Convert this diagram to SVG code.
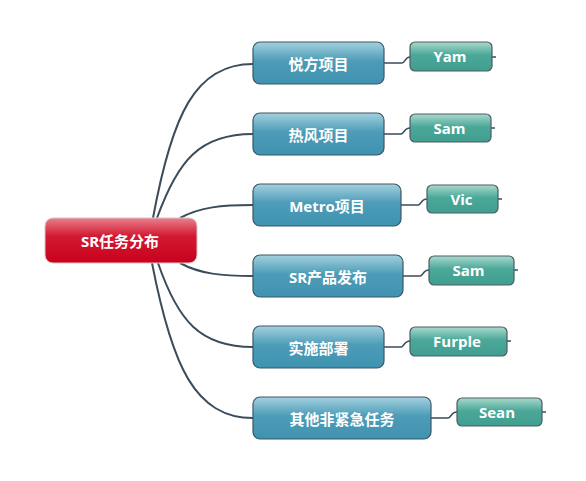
<svg xmlns="http://www.w3.org/2000/svg" width="586" height="481" viewBox="0 0 586 481">
<defs>
<linearGradient id="gRoot" x1="0" y1="0" x2="0" y2="1">
<stop offset="0" stop-color="#e8808c"/>
<stop offset="0.4" stop-color="#d31a32"/>
<stop offset="1" stop-color="#c9001d"/>
</linearGradient>
<linearGradient id="gBranch" x1="0" y1="0" x2="0" y2="1">
<stop offset="0" stop-color="#a3d1de"/>
<stop offset="0.45" stop-color="#4d9cb8"/>
<stop offset="1" stop-color="#3f93b0"/>
</linearGradient>
<linearGradient id="gLeaf" x1="0" y1="0" x2="0" y2="1">
<stop offset="0" stop-color="#a9d9cd"/>
<stop offset="0.45" stop-color="#4ba899"/>
<stop offset="1" stop-color="#409e90"/>
</linearGradient>
</defs>
<style>
.root{fill:url(#gRoot);stroke:#d9c6c8;stroke-width:1}
.branch{fill:url(#gBranch);stroke:#3c5666;stroke-width:1.2}
.leaf{fill:url(#gLeaf);stroke:#4c5d63;stroke-width:1.2}
.t{fill:#ffffff;font-family:"Open Sans","Noto Sans CJK SC",sans-serif;font-weight:bold;font-size:15px;text-anchor:middle;dominant-baseline:central}
.c{fill:none;stroke:#3b4c5c;stroke-width:2}
.cl{fill:none;stroke:#3b4c5c;stroke-width:1.5}
</style>
<g id="connectors">
<path class="c" d="M153,218 C172,115 195,64 253,64"/>
<path class="c" d="M157,218 C178,160 200,134 253,134"/>
<path class="c" d="M180,218 C200,207 222,205 253,205"/>
<path class="c" d="M180,263 C200,274 222,276 253,276"/>
<path class="c" d="M158,263 C178,321 200,347 253,347"/>
<path class="c" d="M152,263 C172,366 195,418 253,418"/>
<path class="cl" d="M384,63 H402 C405,63 405,57 410,57"/>
<path class="cl" d="M384,134 H401 C404,134 404,128 410,128"/>
<path class="cl" d="M401,205 H418 C421,205 421,199 427,199"/>
<path class="cl" d="M403,276 H420 C423,276 423,270 429,270"/>
<path class="cl" d="M384,347 H401 C404,347 404,341 410,341"/>
<path class="cl" d="M431,418 H448 C451,418 451,412 457,412"/>
<path class="cl" d="M492,57 H496"/>
<path class="cl" d="M491,128 H495"/>
<path class="cl" d="M498,199 H502"/>
<path class="cl" d="M514,270 H518"/>
<path class="cl" d="M507,341 H511"/>
<path class="cl" d="M542,412 H546"/>
</g>
<g id="root">
<rect class="root" x="45" y="218" width="152" height="45" rx="8"/>
<text class="t" x="120" y="240.5">SR任务分布</text>
</g>
<g id="b1">
<rect class="branch" x="253" y="42" width="131" height="42" rx="7"/>
<text class="t" x="318.5" y="63.5">悦方项目</text>
</g>
<g id="b2">
<rect class="branch" x="253" y="113" width="131" height="42" rx="7"/>
<text class="t" x="318.5" y="134.5">热风项目</text>
</g>
<g id="b3">
<rect class="branch" x="253" y="184" width="148" height="42" rx="7"/>
<text class="t" x="327" y="205.5">Metro项目</text>
</g>
<g id="b4">
<rect class="branch" x="253" y="255" width="150" height="42" rx="7"/>
<text class="t" x="328" y="276.5">SR产品发布</text>
</g>
<g id="b5">
<rect class="branch" x="253" y="326" width="131" height="42" rx="7"/>
<text class="t" x="318.5" y="347.5">实施部署</text>
</g>
<g id="b6">
<rect class="branch" x="253" y="397" width="178" height="42" rx="7"/>
<text class="t" x="342" y="418.5">其他非紧急任务</text>
</g>
<g id="l1">
<rect class="leaf" x="410" y="42" width="82" height="29" rx="5"/>
<text class="t" x="450" y="56">Yam</text>
</g>
<g id="l2">
<rect class="leaf" x="410" y="114" width="81" height="28" rx="5"/>
<text class="t" x="449.5" y="127.5">Sam</text>
</g>
<g id="l3">
<rect class="leaf" x="427" y="185" width="71" height="28" rx="5"/>
<text class="t" x="461.5" y="198.5">Vic</text>
</g>
<g id="l4">
<rect class="leaf" x="429" y="256" width="85" height="29" rx="5"/>
<text class="t" x="468.5" y="269.5">Sam</text>
</g>
<g id="l5">
<rect class="leaf" x="410" y="327" width="97" height="29" rx="5"/>
<text class="t" x="457" y="340.5">Furple</text>
</g>
<g id="l6">
<rect class="leaf" x="457" y="398" width="85" height="28" rx="5"/>
<text class="t" x="497" y="411.5">Sean</text>
</g>
</svg>
